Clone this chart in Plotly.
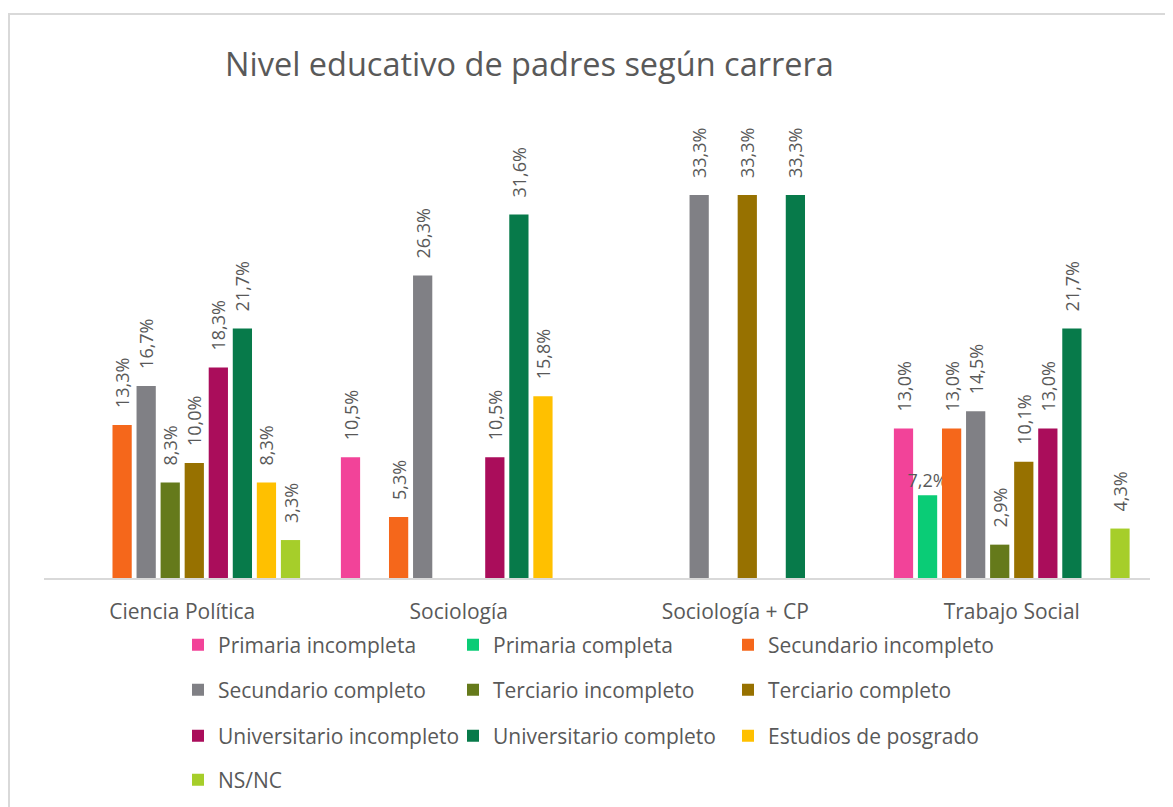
import plotly.graph_objects as go

carreras = ["Ciencia Política", "Sociología", "Sociología + CP", "Trabajo Social"]

primaria_incompleta = [None, 10.5, None, 13.0]
primaria_completa = [None, None, None, 7.2]
secundario_incompleto = [13.3, 5.3, None, 13.0]
secundario_completo = [16.7, 26.3, 33.3, 14.5]
terciario_incompleto = [8.3, None, None, 2.9]
terciario_completo = [10.0, None, 33.3, 10.1]
universitario_incompleto = [18.3, 10.5, None, 13.0]
universitario_completo = [21.7, 31.6, 33.3, 21.7]
estudios_posgrado = [8.3, 15.8, None, None]
ns_nc = [3.3, None, None, 4.3]

series = [
    ("Primaria incompleta", primaria_incompleta, "#F24399", "legend"),
    ("Primaria completa", primaria_completa, "#0ACC76", "legend"),
    ("Secundario incompleto", secundario_incompleto, "#F5671B", "legend"),
    ("Secundario completo", secundario_completo, "#808085", "legend2"),
    ("Terciario incompleto", terciario_incompleto, "#657A1B", "legend2"),
    ("Terciario completo", terciario_completo, "#977100", "legend2"),
    ("Universitario incompleto", universitario_incompleto, "#AA0D5B", "legend3"),
    ("Universitario completo", universitario_completo, "#077A4A", "legend3"),
    ("Estudios de posgrado", estudios_posgrado, "#FFC000", "legend3"),
    ("NS/NC", ns_nc, "#A6CE2A", "legend4"),
]

FONT = "'Open Sans', sans-serif"
GREY = "#595959"
NBSP = "\u00a0"

fig = go.Figure()
for name, vals, color, leg in series:
    # Excel left the lone "Primaria completa" label horizontal
    horizontal = name == "Primaria completa"
    fig.add_trace(go.Bar(
        name=name,
        x=carreras,
        y=vals,
        marker=dict(color=color, line=dict(width=0)),
        texttemplate=("%{y:.1f}%" if horizontal else NBSP * 3 + "%{y:.1f}%"),
        textposition="outside",
        textangle=0 if horizontal else -90,
        constraintext="none",
        textfont=dict(family=FONT, size=18, color=GREY),
        cliponaxis=False,
        legend=leg,
    ))

# page has an 8px body margin around the figure
OFF = 8
W, H = 1173 - OFF, 807 - OFF
# plot area in page pixels: x 44..1150, baseline at y 578
L = 44 - OFF
R = W - (1150 - OFF)
B = H - (578 - OFF)
T = 100 - OFF
pw, ph = W - L - R, H - T - B


def px_x(x):
    return (x - OFF - L) / pw


def px_y(y):
    return (H - B - (y - OFF)) / ph


legend_common = dict(
    orientation="h",
    x=px_x(178),
    xanchor="left",
    yanchor="middle",
    entrywidth=230,
    bgcolor="rgba(0,0,0,0)",
    font=dict(family=FONT, size=21, color=GREY),
    traceorder="normal",
)

fig.update_layout(
    width=W,
    height=H,
    margin=dict(l=L, r=R, t=T, b=B, autoexpand=False),
    paper_bgcolor="white",
    plot_bgcolor="white",
    separators=",.",
    barmode="group",
    bargap=0.13,
    bargroupgap=0.2,
    title=dict(
        text="Nivel educativo de padres según carrera",
        font=dict(family=FONT, size=32.5, color=GREY),
        x=(225 - OFF) / W,
        xanchor="left",
        y=1 - (65 - OFF) / H,
        yanchor="middle",
    ),
    xaxis=dict(
        showline=True,
        linecolor="#d9d9d9",
        linewidth=2,
        ticks="",
        tickfont=dict(family=FONT, size=21, color=GREY),
        ticklabelstandoff=14,
    ),
    yaxis=dict(
        range=[0, ph / 11.5],
        visible=False,
        showgrid=False,
        zeroline=False,
    ),
    legend=dict(legend_common, y=px_y(645)),
    legend2=dict(legend_common, y=px_y(690)),
    legend3=dict(legend_common, y=px_y(736)),
    legend4=dict(legend_common, y=px_y(780)),
    showlegend=True,
)

# outer chart frame
fig.add_shape(
    type="rect",
    xref="paper", yref="paper",
    x0=px_x(OFF + 1), x1=px_x(1200),
    y0=px_y(900), y1=px_y(14),
    line=dict(color="#d9d9d9", width=2),
    fillcolor="rgba(0,0,0,0)",
    layer="below",
)

fig.write_html("out.html")
